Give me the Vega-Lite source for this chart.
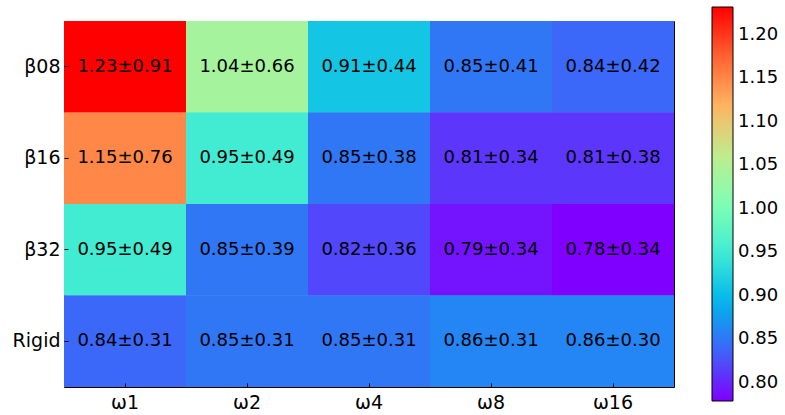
{
  "$schema": "https://vega.github.io/schema/vega-lite/v6.json",
  "width": 610,
  "height": 366,
  "autosize": {"type": "none"},
  "padding": {"left": 64, "top": 21, "right": 111, "bottom": 28},
  "background": "white",
  "config": {
    "view": {"stroke": "black", "strokeWidth": 1},
    "font": "DejaVu Sans",
    "axis": {
      "domain": false,
      "grid": false,
      "ticks": true,
      "tickSize": 4,
      "offset": -4,
      "tickColor": "black",
      "tickWidth": 1,
      "labelFont": "DejaVu Sans",
      "labelFontSize": 19,
      "labelColor": "black",
      "title": null
    }
  },
  "data": {
    "values": [
      {"row": "β08", "col": "ω1", "mean": 1.232, "label": "1.23±0.91"},
      {"row": "β08", "col": "ω2", "mean": 1.04, "label": "1.04±0.66"},
      {"row": "β08", "col": "ω4", "mean": 0.91, "label": "0.91±0.44"},
      {"row": "β08", "col": "ω8", "mean": 0.85, "label": "0.85±0.41"},
      {"row": "β08", "col": "ω16", "mean": 0.84, "label": "0.84±0.42"},
      {"row": "β16", "col": "ω1", "mean": 1.15, "label": "1.15±0.76"},
      {"row": "β16", "col": "ω2", "mean": 0.95, "label": "0.95±0.49"},
      {"row": "β16", "col": "ω4", "mean": 0.85, "label": "0.85±0.38"},
      {"row": "β16", "col": "ω8", "mean": 0.81, "label": "0.81±0.34"},
      {"row": "β16", "col": "ω16", "mean": 0.81, "label": "0.81±0.38"},
      {"row": "β32", "col": "ω1", "mean": 0.95, "label": "0.95±0.49"},
      {"row": "β32", "col": "ω2", "mean": 0.85, "label": "0.85±0.39"},
      {"row": "β32", "col": "ω4", "mean": 0.82, "label": "0.82±0.36"},
      {"row": "β32", "col": "ω8", "mean": 0.79, "label": "0.79±0.34"},
      {"row": "β32", "col": "ω16", "mean": 0.779, "label": "0.78±0.34"},
      {"row": "Rigid", "col": "ω1", "mean": 0.84, "label": "0.84±0.31"},
      {"row": "Rigid", "col": "ω2", "mean": 0.85, "label": "0.85±0.31"},
      {"row": "Rigid", "col": "ω4", "mean": 0.85, "label": "0.85±0.31"},
      {"row": "Rigid", "col": "ω8", "mean": 0.86, "label": "0.86±0.31"},
      {"row": "Rigid", "col": "ω16", "mean": 0.86, "label": "0.86±0.30"}
    ]
  },
  "layer": [
    {
      "mark": {"type": "rect"},
      "encoding": {
        "x": {"field": "col", "type": "nominal", "sort": ["ω1", "ω2", "ω4", "ω8", "ω16"], "scale": {"paddingInner": 0, "paddingOuter": 0}, "axis": {"orient": "bottom", "labelAngle": 0, "labelPadding": 6}},
        "y": {"field": "row", "type": "nominal", "sort": ["β08", "β16", "β32", "Rigid"], "scale": {"paddingInner": 0, "paddingOuter": 0}, "axis": {"orient": "left", "labelPadding": 4}},
        "color": {
          "field": "mean",
          "type": "quantitative",
          "scale": {
            "domain": [0.779, 1.232],
            "interpolate": "rgb",
            "range": ["#8000ff", "#4062fa", "#00b4ec", "#40ecd4", "#80ffb4", "#bfec8e", "#ffb462", "#ff6232", "#ff0000"]
          },
          "legend": {
            "type": "gradient",
            "title": null,
            "orient": "none",
            "legendX": 648,
            "legendY": -14,
            "direction": "vertical",
            "gradientLength": 394,
            "gradientThickness": 21,
            "gradientStrokeColor": "black",
            "gradientStrokeWidth": 1,
            "values": [0.8, 0.85, 0.9, 0.95, 1.0, 1.05, 1.1, 1.15, 1.2],
            "format": ".2f",
            "labelFont": "DejaVu Sans",
            "labelFontSize": 18,
            "labelColor": "black",
            "labelOffset": 5,
            "labelOverlap": false,
            "padding": 0
          }
        }
      }
    },
    {
      "mark": {"type": "rect"},
      "encoding": {
        "x": {"field": "col", "type": "nominal", "sort": ["ω1", "ω2", "ω4", "ω8", "ω16"], "axis": null},
        "y": {"field": "row", "type": "nominal", "sort": ["β08", "β16", "β32", "Rigid"], "axis": null},
        "color": {"field": "mean", "type": "quantitative"}
      }
    },
    {
      "mark": {"type": "text", "font": "DejaVu Sans", "fontSize": 18, "color": "black"},
      "encoding": {
        "x": {"field": "col", "type": "nominal", "sort": ["ω1", "ω2", "ω4", "ω8", "ω16"], "axis": {"orient": "top", "labels": false}},
        "y": {"field": "row", "type": "nominal", "sort": ["β08", "β16", "β32", "Rigid"], "axis": {"orient": "right", "labels": false}},
        "text": {"field": "label", "type": "nominal"}
      }
    }
  ],
  "resolve": {"axis": {"x": "independent", "y": "independent"}}
}
